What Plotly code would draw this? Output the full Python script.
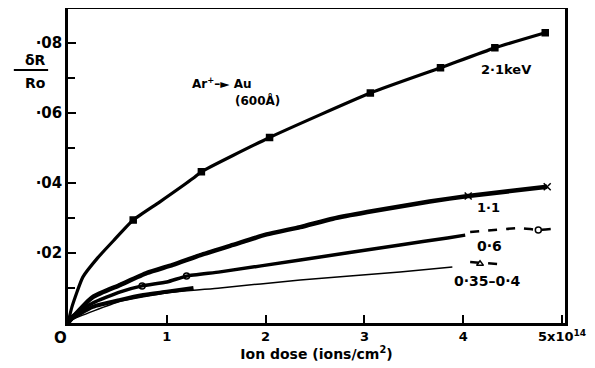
import plotly.graph_objects as go

# ---- data (dose in 1e14 ions/cm^2, deltaR/R0) ----
kev21_x = [0.0, 0.04, 0.15, 0.30, 0.46, 0.66, 0.93, 1.27, 1.35, 2.04, 3.06, 3.77, 4.32, 4.83]
kev21_y = [0.0, 0.0046, 0.0131, 0.0186, 0.0235, 0.0294, 0.0346, 0.0414, 0.0432, 0.053, 0.0657, 0.0729, 0.0786, 0.0829]
kev21_mx = [0.66, 1.35, 2.04, 3.06, 3.77, 4.32, 4.83]
kev21_my = [0.0294, 0.0432, 0.053, 0.0657, 0.0729, 0.0786, 0.0829]

kev11_x = [0.0, 0.05, 0.25, 0.53, 0.80, 1.06, 1.34, 1.67, 2.01, 2.35, 2.68, 3.03, 3.36, 3.66, 4.05, 4.85]
kev11_y = [0.0, 0.0017, 0.0074, 0.0109, 0.0143, 0.0166, 0.0194, 0.0223, 0.0253, 0.0274, 0.0298, 0.0317, 0.0333, 0.0347, 0.0363, 0.0389]
kev11_mx = [4.05, 4.85]
kev11_my = [0.0363, 0.0389]

kev06_x = [0.0, 0.02, 0.25, 0.53, 0.75, 1.00, 1.20, 1.54, 2.35, 3.36, 3.84, 4.02]
kev06_y = [0.0, 0.0014, 0.0057, 0.0089, 0.0106, 0.0117, 0.0134, 0.0146, 0.018, 0.0223, 0.0243, 0.0251]
kev06_dx = [4.07, 4.57, 4.76, 4.91]
kev06_dy = [0.0260, 0.0271, 0.0266, 0.0269]
kev06_mx = [0.75, 1.20, 4.76]
kev06_my = [0.0106, 0.0134, 0.0266]

kev035_x = [0.0, 0.04, 0.53, 1.00, 1.54, 2.35, 3.36, 3.89]
kev035_y = [0.0, 0.0009, 0.0062, 0.0086, 0.0100, 0.0123, 0.0146, 0.0160]
kev035_dx = [4.07, 4.37]
kev035_dy = [0.0174, 0.0168]
kev035_mx = [4.17]
kev035_my = [0.0169]

short_x = [0.0, 0.02, 0.25, 0.53, 0.76, 1.00, 1.27]
short_y = [0.0, 0.0009, 0.0046, 0.0066, 0.0080, 0.0089, 0.0100]

x_ticks = [1, 2, 3, 4, 5]
x_ticktext = ["<b>1</b>", "<b>2</b>", "<b>3</b>", "<b>4</b>", "<b>5x10<sup>14</sup></b>"]
y_ticks = [0.02, 0.04, 0.06, 0.08]
y_ticktext = ["<b>·02</b>", "<b>·04</b>", "<b>·06</b>", "<b>·08</b>"]
y_minor = [0.01, 0.03, 0.05, 0.07]

FONT = "DejaVu Sans"
fig = go.Figure()

def line(x, y, w, dash="solid"):
    fig.add_trace(go.Scatter(x=x, y=y, mode="lines",
                             line=dict(color="black", width=w, dash=dash, shape="spline", smoothing=0.5),
                             showlegend=False, hoverinfo="skip"))

def marks(x, y, sym, size):
    fig.add_trace(go.Scatter(x=x, y=y, mode="markers",
                             marker=dict(symbol=sym, size=size, color="black", line=dict(color="black", width=1.5)),
                             showlegend=False, hoverinfo="skip"))

line(kev21_x, kev21_y, 3.2)
marks(kev21_mx, kev21_my, "square", 6)
line(kev11_x, kev11_y, 4.5)
marks(kev11_mx, kev11_my, "x-thin-open", 7)
line(kev06_x, kev06_y, 3.5)
line(kev06_dx, kev06_dy, 2.5, dash="dash")
marks(kev06_mx, kev06_my, "circle-open", 6)
line(kev035_x, kev035_y, 1.5)
line(kev035_dx, kev035_dy, 2.5, dash="dash")
marks(kev035_mx, kev035_my, "triangle-up-open", 6)
line(short_x, short_y, 4)

labels = [
    (1.56, 0.0686, "Ar<sup>+</sup>\u2013\u25ba Au", 12),
    (1.92, 0.0637, "(600Å)", 12),
    (4.43, 0.0723, "2·1keV", 13),
    (4.26, 0.0331, "1·1", 13),
    (4.27, 0.0220, "0·6", 14),
    (4.25, 0.0120, "0·35–0·4", 14),
]
for x, y, t, s in labels:
    fig.add_annotation(x=x, y=y, text="<b>" + t + "</b>", showarrow=False,
                       xanchor="center", yanchor="middle",
                       font=dict(family=FONT, color="black", size=s))

# origin label and y-axis title
fig.add_annotation(x=0, y=0, xref="x", yref="y", text="<b>O</b>", showarrow=False, xshift=-8, yshift=-15,
                   xanchor="center", yanchor="middle",
                   font=dict(family=FONT, size=15, color="black"))
fig.add_annotation(xref="paper", yref="paper", x=-0.066, y=0.838, text="<b>δR</b>", showarrow=False,
                   xanchor="center", yanchor="middle",
                   font=dict(family=FONT, size=14, color="black"))
fig.add_annotation(xref="paper", yref="paper", x=-0.066, y=0.765, text="<b>Ro</b>", showarrow=False,
                   xanchor="center", yanchor="middle",
                   font=dict(family=FONT, size=14, color="black"))
fig.add_shape(type="line", xref="paper", yref="paper", x0=-0.109, x1=-0.040, y0=0.806, y1=0.806,
              line=dict(color="black", width=2))

# the page body adds an 8px offset, so the figure is sized/margined to compensate
fig.update_layout(
    width=587, height=360,
    margin=dict(l=60, r=30, t=1, b=45, autoexpand=False),
    paper_bgcolor="white", plot_bgcolor="white",
    font=dict(family=FONT, color="black", size=14),
    xaxis=dict(range=[0, 5.03], tickvals=x_ticks, ticktext=x_ticktext, ticks="inside", ticklen=8,
               tickwidth=2, tickcolor="black", showline=True, linewidth=2.5, linecolor="black",
               mirror=True, showgrid=False, zeroline=False, automargin=False,
               tickfont=dict(family=FONT, size=13, color="black"),
               title=dict(text="<b>Ion dose (ions/cm<sup>2</sup>)</b>", standoff=2,
                          font=dict(family=FONT, size=14, color="black"))),
    yaxis=dict(range=[0, 0.0897], tickvals=y_ticks, ticktext=y_ticktext, ticks="inside", ticklen=8,
               tickwidth=2, tickcolor="black", showline=True, linewidth=2.5, linecolor="black",
               mirror=True, showgrid=False, zeroline=False, automargin=False,
               tickfont=dict(family=FONT, size=15, color="black"),
               minor=dict(tickvals=y_minor, ticks="inside", ticklen=7,
                          tickwidth=2, tickcolor="black")),
)

fig.write_html("out.html")
